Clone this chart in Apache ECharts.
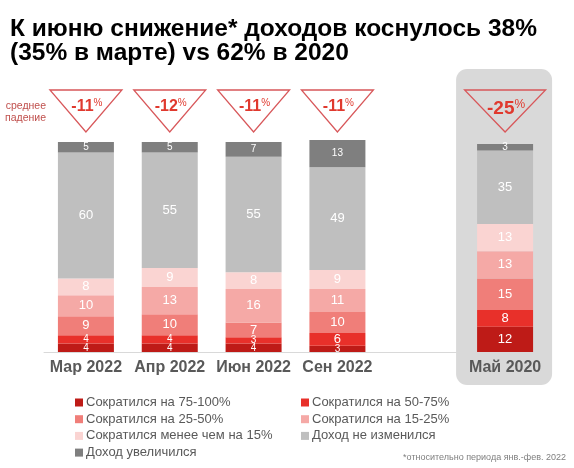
<!DOCTYPE html>
<html><head><meta charset="utf-8">
<script src="https://cdn.jsdelivr.net/npm/echarts@6/dist/echarts.min.js"></script>
<style>html,body{margin:0;padding:0;background:#fff}#c{width:574px;height:468px}</style>
</head><body><div id="c"></div>
<script>
// ---- data ----
const categories = ["Мар 2022", "Апр 2022", "Июн 2022", "Сен 2022", "", "Май 2020"];
const seriesNames = [
  "Сократился на 75-100%",
  "Сократился на 50-75%",
  "Сократился на 25-50%",
  "Сократился на 15-25%",
  "Сократился менее чем на 15%",
  "Доход не изменился",
  "Доход увеличился"
];
const cut75to100  = [4, 4, 4, 3, '-', 12];
const cut50to75   = [4, 4, 3, 6, '-', 8];
const cut25to50   = [9, 10, 7, 10, '-', 15];
const cut15to25   = [10, 13, 16, 11, '-', 13];
const cutUnder15  = [8, 9, 8, 9, '-', 13];
const unchanged   = [60, 55, 55, 49, '-', 35];
const increased   = [5, 5, 7, 13, '-', 3];
const avgDrop     = [-11, -12, -11, -11, null, -25];
const highlightIndex = 5;

const colors = ['#be1b17', '#e8302a', '#f07e79', '#f5a9a6', '#fad4d2', '#bfbfbf', '#7f7f7f'];
const seriesData = [cut75to100, cut50to75, cut25to50, cut15to25, cutUnder15, unchanged, increased];

const FONT = 'Arial, "Liberation Sans", sans-serif';

function barSeries(i) {
  const smallOnly = (i === 6);
  return {
    name: seriesNames[i],
    type: 'bar',
    stack: 'total',
    barWidth: 56,
    clip: false,
    z: 2,
    itemStyle: { color: colors[i] },
    label: {
      show: true,
      position: 'inside',
      color: '#fff',
      fontFamily: FONT,
      formatter: p => (!smallOnly && p.value >= 6) ? '{b|' + p.value + '}' : '{s|' + p.value + '}',
      rich: {
        b: { fontSize: 13, color: '#fff', fontFamily: FONT },
        s: { fontSize: 10, color: '#fff', fontFamily: FONT }
      }
    },
    data: seriesData[i]
  };
}

const chart = echarts.init(document.getElementById('c'), null, { renderer: 'canvas' });

const option = {
  backgroundColor: '#fff',
  animation: false,
  title: [
    {
      text: 'К июню снижение* доходов коснулось 38%\n(35% в марте) vs 62% в 2020',
      left: 5, top: 12,
      textStyle: { fontFamily: FONT, fontSize: 24.5, fontWeight: 'bold', color: '#000', lineHeight: 24 }
    },
    {
      text: '*относительно периода янв.-фев. 2022',
      right: 3, top: 448,
      textStyle: { fontFamily: FONT, fontSize: 9, fontWeight: 'normal', color: '#7f7f7f' }
    }
  ],
  graphic: [
    {
      type: 'text', x: 46, y: 100, z: 10,
      style: { text: 'среднее\nпадение', align: 'right', verticalAlign: 'top',
               font: '10.5px ' + FONT, fill: '#c0504d', lineHeight: 12 }
    }
  ],
  legend: [
    {
      orient: 'vertical', left: 70, top: 391, itemWidth: 8, itemHeight: 8, itemGap: 3.7,
      icon: 'rect', selectedMode: false,
      data: [seriesNames[0], seriesNames[2], seriesNames[4], seriesNames[6]],
      textStyle: { fontFamily: FONT, fontSize: 13, color: '#595959', padding: [0, 0, 0, -2] }
    },
    {
      orient: 'vertical', left: 296, top: 391, itemWidth: 8, itemHeight: 8, itemGap: 3.7,
      icon: 'rect', selectedMode: false,
      data: [seriesNames[1], seriesNames[3], seriesNames[5]],
      textStyle: { fontFamily: FONT, fontSize: 13, color: '#595959', padding: [0, 0, 0, -2] }
    }
  ],
  grid: { left: 44, right: 27, top: 142, bottom: 116, containLabel: false },
  xAxis: [
    {
      type: 'category', data: categories, z: 0,
      axisLine: { show: true, lineStyle: { color: '#d9d9d9', width: 1 } },
      axisTick: { show: false }, axisLabel: { show: false }, splitLine: { show: false }
    },
    {
      type: 'category', data: categories, z: 6, position: 'bottom',
      axisLine: { show: false }, axisTick: { show: false }, splitLine: { show: false },
      axisLabel: { show: true, interval: 0, margin: 8, fontFamily: FONT, fontSize: 16, fontWeight: 'bold', color: '#595959' }
    }
  ],
  yAxis: { type: 'value', min: 0, max: 100, show: false, splitLine: { show: false } },
  series: [
    {
      type: 'custom', name: 'panel', z: 1, silent: true,
      data: [[highlightIndex, 100]],
      renderItem: function (params, api) {
        const x = api.coord([api.value(0), 100])[0];
        const top = api.coord([api.value(0), 100])[1];
        const bottom = api.coord([api.value(0), 0])[1];
        return {
          type: 'rect',
          shape: { x: x - 49, y: top - 73, width: 96, height: (bottom + 33) - (top - 73), r: 11 },
          style: { fill: '#d9d9d9' }
        };
      }
    },
    ...seriesData.map((_, i) => barSeries(i)),
    {
      type: 'custom', name: 'drop', z: 4, silent: true,
      data: avgDrop.map((v, i) => [i, v]).filter(d => d[1] !== null),
      renderItem: function (params, api) {
        const idx = api.value(0);
        const v = api.value(1);
        const big = idx === highlightIndex;
        const x = api.coord([idx, 100])[0];
        const gTop = api.coord([idx, 100])[1];
        const hw = big ? 40.5 : 36;
        const yT = gTop - 52, yA = gTop - 10;
        return {
          type: 'group',
          children: [
            {
              type: 'polygon',
              shape: { points: [[x - hw, yT], [x + hw, yT], [x, yA]] },
              style: { fill: 'none', stroke: '#d8575a', lineWidth: 1.3 }
            },
            {
              type: 'text',
              x: x + 1, y: gTop - (big ? 33 : 35),
              style: {
                text: '{n|' + v + '}{p|%}',
                align: 'center', verticalAlign: 'middle',
                rich: {
                  n: { fontSize: big ? 19 : 16, fontWeight: 'bold', fill: '#e0392e', color: '#e0392e', fontFamily: FONT },
                  p: { fontSize: big ? 12 : 10, fill: '#e0392e', color: '#e0392e', fontFamily: FONT, padding: [0, 0, big ? 9 : 8, 0] }
                }
              }
            }
          ]
        };
      }
    }
  ]
};
chart.setOption(option);
</script>
</body></html>
